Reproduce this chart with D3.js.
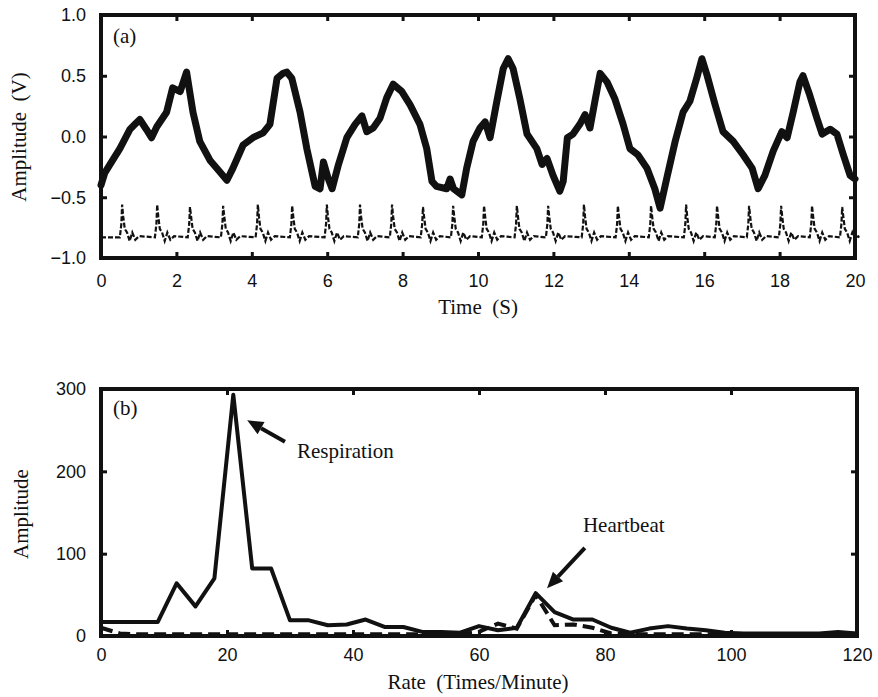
<!DOCTYPE html>
<html>
<head>
<meta charset="utf-8">
<script src="https://cdn.jsdelivr.net/npm/d3@7/dist/d3.min.js"></script>
<style>
  body { margin: 0; background: #fff; }
  svg { display: block; }
  .tick text { font-family: "Liberation Sans", Arial, sans-serif; font-size: 18px; fill: #111; }
  .lbl { font-family: "Liberation Serif", "Times New Roman", serif; font-size: 21px; fill: #111; white-space: pre; }
</style>
</head>
<body>
<svg id="chart" width="878" height="697"></svg>
<script>
// ---- panel (a): respiration waveform (thick line)
const respTime = [0, 0.1, 0.24, 0.5, 0.77, 0.9, 1.03, 1.2, 1.34, 1.48, 1.74, 1.9, 2.1, 2.27, 2.44, 2.62, 2.9, 3.15, 3.34, 3.5,
  3.77, 4.03, 4.3, 4.48, 4.67, 4.83, 4.93, 5.06, 5.28, 5.46, 5.68, 5.81, 5.9, 6.02, 6.13, 6.3, 6.52, 6.74, 6.92, 7.05,
  7.22, 7.4, 7.58, 7.75, 7.98, 8.2, 8.46, 8.64, 8.78, 8.9, 9.17, 9.26, 9.35, 9.57, 9.7, 9.87, 10.05, 10.19, 10.32, 10.5,
  10.67, 10.8, 10.93, 11.11, 11.3, 11.56, 11.7, 11.83, 11.99, 12.17, 12.26, 12.37, 12.52, 12.7, 12.84, 12.97, 13.1, 13.24, 13.42, 13.63,
  13.85, 14.03, 14.24, 14.48, 14.69, 14.83, 15.01, 15.23, 15.44, 15.62, 15.8, 15.94, 16.07, 16.29, 16.5, 16.77, 17.03, 17.27, 17.43, 17.61,
  17.83, 18.06, 18.2, 18.36, 18.54, 18.62, 18.8, 18.99, 19.13, 19.34, 19.52, 19.69, 19.87, 20];
const respVolt = [-0.40, -0.30, -0.23, -0.10, 0.06, 0.10, 0.14, 0.06, -0.01, 0.08, 0.20, 0.40, 0.37, 0.53, 0.20, -0.04, -0.20, -0.29, -0.36, -0.26,
  -0.07, -0.01, 0.03, 0.10, 0.48, 0.52, 0.53, 0.48, 0.20, -0.10, -0.41, -0.43, -0.21, -0.34, -0.43, -0.23, -0.01, 0.10, 0.17, 0.04,
  0.07, 0.15, 0.32, 0.43, 0.37, 0.26, 0.10, -0.10, -0.37, -0.41, -0.43, -0.35, -0.43, -0.48, -0.26, -0.04, 0.07, 0.12, -0.01, 0.29,
  0.56, 0.64, 0.56, 0.31, 0.02, -0.10, -0.23, -0.18, -0.32, -0.45, -0.37, -0.01, 0.02, 0.10, 0.18, 0.07, 0.29, 0.52, 0.45, 0.31,
  0.10, -0.10, -0.15, -0.26, -0.43, -0.59, -0.34, -0.04, 0.20, 0.29, 0.48, 0.64, 0.51, 0.26, 0.04, -0.04, -0.15, -0.26, -0.43, -0.32,
  -0.12, 0.04, -0.01, 0.20, 0.45, 0.50, 0.34, 0.15, 0.02, 0.06, 0.02, -0.15, -0.32, -0.35];

// heartbeat trace (dashed): beat times, peak of each beat, and the shape of one beat
const beatTime = [0.56, 1.49, 2.36, 3.24, 4.16, 5.07, 5.99, 6.87, 7.72, 8.54, 9.34, 10.16, 11.03, 11.86, 12.81, 13.71, 14.59, 15.52, 16.34, 17.19, 18.04, 18.86, 19.66];
const beatPeak = [-0.56, -0.56, -0.58, -0.57, -0.56, -0.57, -0.56, -0.56, -0.56, -0.58, -0.57, -0.57, -0.57, -0.57, -0.56, -0.57, -0.57, -0.56, -0.57, -0.57, -0.57, -0.57, -0.58];
const beatDt = [-0.06, -0.02, 0, 0.03, 0.07, 0.13, 0.2, 0.27, 0.35, 0.45];
const beatV  = [-0.83, -0.72, null, -0.66, -0.76, -0.79, -0.86, -0.79, -0.85, -0.82];
const ecgBase = -0.83;

const timeTicks = [0, 2, 4, 6, 8, 10, 12, 14, 16, 18, 20];
const voltTicks = [-1, -0.5, 0, 0.5, 1];

// ---- panel (b): spectra
const rate = [0, 3, 6, 9, 12, 15, 18, 21, 24, 27, 30, 33, 36, 39, 42, 45, 48, 51, 54, 57, 60,
  63, 66, 69, 72, 75, 78, 81, 84, 87, 90, 93, 96, 99, 102, 105, 108, 111, 114, 117, 120];
const respSpec = [17, 17, 17, 17, 64, 36, 70, 293, 82, 82, 19, 19, 13, 14, 20, 11, 11, 5, 5, 4, 12,
  7, 10, 52, 29, 20, 20, 10, 4, 9, 12, 9, 7, 4, 3, 3, 3, 3, 3, 5, 3];
const heartSpec = [10, 3, 2, 2, 2, 2, 2, 2, 2, 2, 2, 2, 2, 2, 2, 2, 2, 2, 2, 2, 5,
  15, 9, 50, 13, 14, 10, 3, 2, 2, 2, 2, 2, 2, 2, 2, 2, 2, 2, 2, 2];

const rateTicks = [0, 20, 40, 60, 80, 100, 120];
const ampTicks = [0, 100, 200, 300];

const svg = d3.select('#chart');
svg.append('rect').attr('width', 878).attr('height', 697).attr('fill', '#fff');

function frame(g, x, y, xt, yt, yfmt, xpad) {
  const [x0, x1] = x.range();
  const [y0, y1] = y.range();
  const style = a => {
    a.select('.domain').remove();
    a.selectAll('.tick line').attr('stroke', '#111').attr('stroke-width', 3);
  };
  g.append('g').attr('transform', `translate(0,${y0})`)
    .call(d3.axisBottom(x).tickValues(xt).tickSize(-6).tickPadding(xpad).tickFormat(d3.format('d')))
    .call(style);
  g.append('g').attr('transform', `translate(0,${y1})`)
    .call(d3.axisTop(x).tickValues(xt).tickSize(-6).tickFormat(''))
    .call(style);
  g.append('g').attr('transform', `translate(${x0},0)`)
    .call(d3.axisLeft(y).tickValues(yt).tickSize(-6).tickPadding(15).tickFormat(yfmt))
    .call(style);
  g.append('g').attr('transform', `translate(${x1},0)`)
    .call(d3.axisRight(y).tickValues(yt).tickSize(-6).tickFormat(''))
    .call(style);
  g.append('rect')
    .attr('x', x0).attr('y', y1).attr('width', x1 - x0).attr('height', y0 - y1)
    .attr('fill', 'none').attr('stroke', '#111').attr('stroke-width', 4);
}

// ================= panel (a)
const xa = d3.scaleLinear().domain([0, 20]).range([101, 855]);
const ya = d3.scaleLinear().domain([-1, 1]).range([258, 15]);
const ga = svg.append('g');

const lineA = d3.line().x(d => xa(d[0])).y(d => ya(d[1]));

// heartbeat trace points
const ecg = [[0, ecgBase]];
beatTime.forEach((t, i) => {
  beatDt.forEach((dt, j) => {
    ecg.push([t + dt, beatV[j] === null ? beatPeak[i] : beatV[j]]);
  });
});
ecg.push([20, ecgBase]);

ga.append('path').datum(ecg)
  .attr('d', lineA).attr('fill', 'none')
  .attr('stroke', '#111').attr('stroke-width', 2.2)
  .attr('stroke-dasharray', '5,2');

ga.append('path').datum(respTime.map((t, i) => [t, respVolt[i]]))
  .attr('d', lineA).attr('fill', 'none')
  .attr('stroke', '#111').attr('stroke-width', 7)
  .attr('stroke-linejoin', 'round').attr('stroke-linecap', 'round');

frame(ga, xa, ya, timeTicks, voltTicks, d3.format('.1f'), 16);

ga.append('text').attr('class', 'lbl').attr('x', 113).attr('y', 43).text('(a)');
ga.append('text').attr('class', 'lbl').attr('x', 478).attr('y', 314)
  .attr('text-anchor', 'middle').text('Time  (S)');
ga.append('text').attr('class', 'lbl')
  .attr('transform', 'translate(26,137) rotate(-90)')
  .attr('text-anchor', 'middle').text('Amplitude  (V)');

// ================= panel (b)
const xb = d3.scaleLinear().domain([0, 120]).range([101, 857]);
const yb = d3.scaleLinear().domain([0, 300]).range([636, 389]);
const gb = svg.append('g');

const lineB = d3.line().x((d, i) => xb(rate[i])).y(d => yb(d));

gb.append('path').datum(heartSpec)
  .attr('d', lineB).attr('fill', 'none')
  .attr('stroke', '#111').attr('stroke-width', 4)
  .attr('stroke-dasharray', '12,6');

gb.append('path').datum(respSpec)
  .attr('d', lineB).attr('fill', 'none')
  .attr('stroke', '#111').attr('stroke-width', 4)
  .attr('stroke-linejoin', 'round');

frame(gb, xb, yb, rateTicks, ampTicks, d3.format('d'), 12);

gb.append('text').attr('class', 'lbl').attr('x', 113).attr('y', 415).text('(b)');
gb.append('text').attr('class', 'lbl').attr('x', 478).attr('y', 689)
  .attr('text-anchor', 'middle').text('Rate  (Times/Minute)');
gb.append('text').attr('class', 'lbl')
  .attr('transform', 'translate(28,514) rotate(-90)')
  .attr('text-anchor', 'middle').text('Amplitude');

// annotations with arrows (positions in data units)
function arrow(g, tail, tip) {
  const x1 = xb(tail[0]), y1 = yb(tail[1]), x2 = xb(tip[0]), y2 = yb(tip[1]);
  const a = Math.atan2(y2 - y1, x2 - x1);
  const L = 16, Wd = 7;
  const bx = x2 - L * Math.cos(a), by = y2 - L * Math.sin(a);
  g.append('line').attr('x1', x1).attr('y1', y1).attr('x2', bx).attr('y2', by)
    .attr('stroke', '#111').attr('stroke-width', 4);
  g.append('path')
    .attr('d', `M${x2},${y2}L${bx + Wd * Math.sin(a)},${by - Wd * Math.cos(a)}L${bx - Wd * Math.sin(a)},${by + Wd * Math.cos(a)}Z`)
    .attr('fill', '#111');
}
arrow(gb, [29.2, 236], [23.2, 262]);
arrow(gb, [76.8, 107], [70.8, 58]);
gb.append('text').attr('class', 'lbl').attr('x', xb(31.1)).attr('y', 458).text('Respiration');
gb.append('text').attr('class', 'lbl').attr('x', xb(76.5)).attr('y', 532).text('Heartbeat');
</script>
</body>
</html>
